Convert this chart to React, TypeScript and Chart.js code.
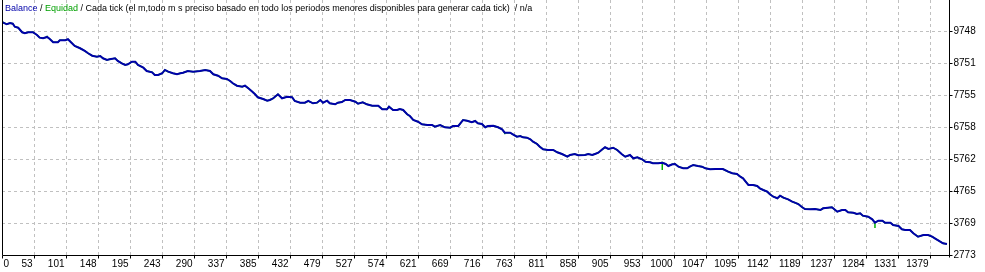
import React, { useEffect, useRef } from "react";
import { Chart, registerables } from "chart.js";

Chart.register(...registerables);

// Trade numbers (x) and balance values (y)
const trades = [
  1, 7, 12, 16, 19, 24, 27, 30, 34, 39, 46, 52, 56, 61, 67, 71, 76, 83, 86, 94,
  98, 104, 108, 116, 123, 128, 134, 141, 146, 150, 156, 160, 168, 172, 178, 183, 187, 193, 198, 202,
  210, 215, 223, 227, 232, 238, 242, 247, 254, 260, 265, 269, 276, 284, 294, 302, 309, 314, 321, 327,
  334, 339, 343, 349, 357, 361, 366, 372, 376, 380, 388, 394, 398, 403, 410, 416, 424, 431, 435, 443,
  450, 455, 462, 468, 473, 477, 483, 487, 495, 499, 505, 510, 517, 525, 529, 536, 542, 550, 559, 565,
  572, 575, 581, 587, 591, 596, 602, 606, 611, 618, 624, 632, 639, 643, 651, 658, 666, 670, 678, 685,
  691, 698, 703, 707, 713, 718, 722, 730, 737, 743, 747, 755, 759, 765, 770, 774, 780, 785, 789, 795,
  799, 804, 811, 819, 825, 832, 840, 844, 851, 856, 866, 871, 877, 881, 886, 892, 896, 901, 908, 914,
  921, 926, 933, 938, 944, 951, 956, 963, 967, 975, 981, 986, 990, 996, 1000, 1005, 1012, 1018, 1022, 1027,
  1034, 1040, 1045, 1052, 1060, 1071, 1079, 1085, 1092, 1097, 1101, 1107, 1109, 1116, 1122, 1126, 1131, 1137, 1141, 1146,
  1152, 1156, 1161, 1168, 1174, 1178, 1183, 1189, 1193, 1201, 1208, 1216, 1220, 1227, 1233, 1238, 1241, 1248, 1253, 1257,
  1265, 1270, 1275, 1279, 1287, 1293, 1297, 1302, 1308, 1312, 1320, 1324, 1332, 1337, 1342, 1349, 1354, 1361, 1369, 1376,
  1382, 1386, 1394, 1398, 1404,
];

const balance = [
  10019, 9957, 9997, 9976, 9882, 9851, 9780, 9708, 9677, 9708, 9708, 9624, 9540, 9521, 9562, 9499, 9397, 9397, 9459, 9459,
  9490, 9365, 9281, 9210, 9126, 9054, 8979, 8948, 8970, 8898, 8845, 8867, 8898, 8814, 8743, 8690, 8711, 8792, 8792, 8690,
  8606, 8503, 8462, 8378, 8378, 8431, 8534, 8481, 8431, 8400, 8431, 8450, 8503, 8481, 8503, 8534, 8503, 8400, 8356, 8275,
  8254, 8191, 8120, 8045, 8014, 8045, 7964, 7858, 7777, 7684, 7631, 7578, 7600, 7653, 7777, 7653, 7702, 7684, 7569, 7516,
  7516, 7569, 7497, 7516, 7600, 7516, 7578, 7497, 7466, 7516, 7537, 7600, 7600, 7547, 7484, 7528, 7466, 7422, 7422, 7310,
  7310, 7391, 7288, 7288, 7319, 7288, 7154, 7101, 6977, 6924, 6843, 6821, 6821, 6768, 6821, 6750, 6737, 6790, 6790, 6977,
  6955, 6905, 6946, 6874, 6852, 6750, 6790, 6799, 6750, 6687, 6581, 6581, 6532, 6457, 6479, 6438, 6426, 6376, 6301, 6230,
  6145, 6064, 6043, 6043, 5971, 5918, 5834, 5887, 5918, 5878, 5887, 5918, 5887, 5918, 5959, 6064, 6127, 6074, 6114, 6043,
  5909, 5834, 5887, 5784, 5815, 5753, 5678, 5660, 5629, 5629, 5647, 5607, 5544, 5597, 5607, 5523, 5473, 5473, 5523, 5576,
  5544, 5523, 5473, 5442, 5451, 5451, 5367, 5317, 5295, 5211, 5161, 5006, 4953, 4953, 4922, 4850, 4797, 4744, 4663, 4588,
  4539, 4620, 4557, 4507, 4433, 4402, 4361, 4258, 4205, 4196, 4205, 4174, 4227, 4246, 4258, 4174, 4121, 4174, 4174, 4103,
  4090, 4050, 4072, 3997, 3966, 3885, 3779, 3841, 3841, 3779, 3779, 3707, 3676, 3573, 3552, 3552, 3449, 3343, 3396, 3396,
  3343, 3293, 3187, 3137, 3116,
];

// Equity excursions (where equity differs from balance)
const equityTrades = [67, 747, 981, 1297];
const equityValues = [9600, 6530, 5420, 3614];

const xTickLabels = [
  "0", "53", "101", "148", "195", "243", "290", "337", "385", "432", "479", "527", "574", "621", "669",
  "716", "763", "811", "858", "905", "953", "1000", "1047", "1095", "1142", "1189", "1237", "1284", "1331", "1379",
];
const yTickLabels = ["2773", "3769", "4765", "5762", "6758", "7755", "8751", "9748"];

const X_TICK_STEP = 1379 / 29;
const X_MAX = 1407;
const Y_MIN = 2773;
const Y_MAX = 10713;

const FONT = '10px "Liberation Sans", Arial, sans-serif';
const TITLE_FONT = '9px "Liberation Sans", Arial, sans-serif';

const mt4Plugin = {
  id: "mt4Frame",
  beforeDatasetsDraw(chart: any) {
    const { ctx, chartArea: a, scales } = chart;
    const x = scales.x;
    const y = scales.y;
    ctx.save();
    ctx.strokeStyle = "#c0c0c0";
    ctx.lineWidth = 1;
    ctx.setLineDash([3, 3]);
    xTickLabels.forEach((_, k) => {
      if (k === 0) return;
      const px = Math.round(x.getPixelForValue(k * X_TICK_STEP)) + 0.5;
      ctx.beginPath();
      ctx.moveTo(px, a.top);
      ctx.lineTo(px, a.bottom);
      ctx.stroke();
    });
    yTickLabels.forEach((l, i) => {
      if (i === 0) return;
      const py = Math.round(y.getPixelForValue(Number(l))) + 0.5;
      ctx.beginPath();
      ctx.moveTo(a.left, py);
      ctx.lineTo(a.right, py);
      ctx.stroke();
    });
    ctx.restore();
  },
  afterDatasetsDraw(chart: any) {
    const { ctx, chartArea: a, scales } = chart;
    const x = scales.x;
    const y = scales.y;
    ctx.save();
    ctx.setLineDash([]);
    ctx.strokeStyle = "#000";
    ctx.lineWidth = 1;
    const L = Math.round(a.left) + 0.5;
    const R = Math.round(a.right) + 0.5;
    const B = Math.round(a.bottom) + 0.5;
    ctx.beginPath();
    ctx.moveTo(L, 0);
    ctx.lineTo(L, B);
    ctx.lineTo(R, B);
    ctx.moveTo(R, 0);
    ctx.lineTo(R, B + 2);
    ctx.stroke();

    ctx.font = FONT;
    ctx.fillStyle = "#000";
    // x ticks & labels
    ctx.textBaseline = "middle";
    xTickLabels.forEach((lab, k) => {
      const px = Math.round(x.getPixelForValue(k * X_TICK_STEP)) + 0.5;
      ctx.beginPath();
      ctx.moveTo(px, B);
      ctx.lineTo(px, B + 3);
      ctx.stroke();
      if (k === 0) {
        ctx.textAlign = "left";
        ctx.fillText(lab, px + 1, 264);
      } else {
        ctx.textAlign = "right";
        ctx.fillText(lab, px - 2, 264);
      }
    });
    // y ticks & labels
    ctx.textAlign = "left";
    yTickLabels.forEach((lab) => {
      const py = Math.round(y.getPixelForValue(Number(lab))) + 0.5;
      ctx.beginPath();
      ctx.moveTo(R, py);
      ctx.lineTo(R + 3, py);
      ctx.stroke();
      ctx.fillText(lab, R + 4, py);
    });

    // title / legend
    ctx.font = TITLE_FONT;
    ctx.textBaseline = "alphabetic";
    const parts: [string, string][] = [
      ["Balance", "#0000aa"],
      [" / ", "#000"],
      ["Equidad", "#00a000"],
      [" / Cada tick (el m,todo m s preciso basado en todo los periodos menores disponibles para generar cada tick)  / n/a", "#000"],
    ];
    let tx = 5;
    parts.forEach(([t, c]) => {
      ctx.fillStyle = c;
      ctx.fillText(t, tx, 11);
      tx += ctx.measureText(t).width;
    });
    ctx.restore();
  },
};

export default function App() {
  const ref = useRef<HTMLCanvasElement | null>(null);
  useEffect(() => {
    if (!ref.current) return;
    const balPts = trades.map((t, i) => ({ x: t, y: balance[i] }));
    const eqPts: { x: number; y: number }[] = [];
    trades.forEach((t, i) => {
      eqPts.push({ x: t, y: balance[i] });
      const j = equityTrades.indexOf(t);
      if (j >= 0) {
        eqPts.push({ x: t, y: equityValues[j] });
        eqPts.push({ x: t, y: balance[i] });
      }
    });
    const chart = new Chart(ref.current, {
      type: "line",
      data: {
        datasets: [
          {
            label: "Balance",
            data: balPts,
            borderColor: "#0000aa",
            borderWidth: 2,
            pointRadius: 0,
            tension: 0,
            fill: false,
          },
          {
            label: "Equidad",
            data: eqPts,
            borderColor: "#00b000",
            borderWidth: 1.5,
            pointRadius: 0,
            tension: 0,
            fill: false,
          },
        ],
      },
      options: {
        animation: false,
        responsive: false,
        devicePixelRatio: 1,
        layout: { padding: { left: 2, right: 36, top: 0, bottom: 17 } },
        plugins: { legend: { display: false }, tooltip: { enabled: false } },
        events: [],
        scales: {
          x: { type: "linear", min: 0, max: X_MAX, display: false },
          y: { type: "linear", min: Y_MIN, max: Y_MAX, display: false },
        },
      },
      plugins: [mt4Plugin],
    });
    return () => chart.destroy();
  }, []);
  return (
    <div style={{ position: "fixed", left: 0, top: 0, width: 985, height: 272, background: "#fff" }}>
      <canvas ref={ref} width={985} height={272} />
    </div>
  );
}
